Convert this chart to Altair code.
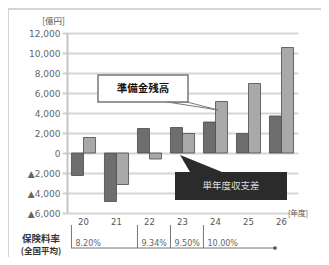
import altair as alt
import pandas as pd

# ---- data ----
years = ["20", "21", "22", "23", "24", "25", "26"]
balance = [-2250, -4850, 2450, 2550, 3100, 1950, 3700]      # 単年度収支差
reserve = [1550, -3150, -600, 1950, 5150, 6950, 10550]      # 準備金残高
series_names = ["単年度収支差", "準備金残高"]
y_ticks = [-6000, -4000, -2000, 0, 2000, 4000, 6000, 8000, 10000, 12000]
rate_years = ["20", "22", "23", "24"]
rates = ["8.20%", "9.34%", "9.50%", "10.00%"]

FONT = "Noto Sans CJK JP"
NUMFONT = "DejaVu Sans"
W, H = 231, 180

rows = []
for yr, b, r in zip(years, balance, reserve):
    rows.append({"year": yr, "series": series_names[0], "value": b})
    rows.append({"year": yr, "series": series_names[1], "value": r})
df = pd.DataFrame(rows)
rate_df = pd.DataFrame({"year": rate_years, "rate": rates})

xscale = alt.Scale(domain=years, paddingInner=0.27, paddingOuter=0.135)
x_axis = alt.Axis(title=None, domain=False, ticks=False, grid=False, labelAngle=0,
                  labelFont=NUMFONT, labelFontSize=8.5, labelColor="#555", labelPadding=4)

# outer frame (decoration)
frame = alt.Chart(pd.DataFrame({"a": [0]})).mark_rect(
    fillOpacity=0, stroke="#c8c8c8", strokeWidth=1.5
).encode(x=alt.value(-59), x2=alt.value(280), y=alt.value(-24), y2=alt.value(270))

bars = alt.Chart(df).mark_bar(stroke="#4a4a4a", strokeWidth=0.8).encode(
    x=alt.X("year:N", sort=years, scale=xscale, axis=x_axis),
    xOffset=alt.XOffset("series:N", sort=series_names,
                        scale=alt.Scale(domain=series_names, paddingInner=0, paddingOuter=0)),
    y=alt.Y("value:Q", scale=alt.Scale(domain=[-6000, 12000], nice=False, zero=False),
            axis=alt.Axis(values=y_ticks,
                          labelExpr="datum.value < 0 ? '▲' + format(-datum.value, ',') : format(datum.value, ',')",
                          grid=True, gridColor="#d6d6d6", gridWidth=2,
                          domainColor="#c4c4c4", domainWidth=2,
                          tickColor="#d0d0d0", tickWidth=2, tickSize=5,
                          labelPadding=2, labelFont=NUMFONT, labelFontSize=9, labelColor="#666",
                          title="[億円]", titleAngle=0, titleAlign="center", titleBaseline="middle",
                          titleX=-14, titleY=-13, titleFont=FONT, titleFontSize=8.5,
                          titleFontWeight="normal", titleColor="#555")),
    color=alt.Color("series:N", scale=alt.Scale(domain=series_names, range=["#6e6e6e", "#a9a9a9"]),
                    legend=None),
)

# callout: 準備金残高
box1 = alt.Chart(pd.DataFrame({"a": [0]})).mark_rect(
    fill="white", stroke="#777", strokeWidth=1.5
).encode(x=alt.value(31), x2=alt.value(121), y=alt.value(42), y2=alt.value(69))
wedge1 = alt.Chart(pd.DataFrame({"px": [100, 120, 151], "py": [69, 69, 77], "py2": [69, 72.1, 77]})).mark_area(
    fill="white", stroke="#777", strokeWidth=1
).encode(x=alt.X("px:Q", scale=None), y=alt.Y("py:Q", scale=None), y2="py2:Q")
text1 = alt.Chart(pd.DataFrame({"t": ["準備金残高"]})).mark_text(
    font=FONT, fontSize=10.5, fontWeight="bold", color="#111", align="center", baseline="middle"
).encode(x=alt.value(76), y=alt.value(55.5), text="t:N")

# callout: 単年度収支差
wedge2 = alt.Chart(pd.DataFrame({"px": [113, 123, 155], "py": [122, 126, 139], "py2": [122, 139, 139]})).mark_area(
    fill="#2b2b2b"
).encode(x=alt.X("px:Q", scale=None), y=alt.Y("py:Q", scale=None), y2="py2:Q")
box2 = alt.Chart(pd.DataFrame({"a": [0]})).mark_rect(fill="#2b2b2b").encode(
    x=alt.value(108), x2=alt.value(220), y=alt.value(139), y2=alt.value(167))
text2 = alt.Chart(pd.DataFrame({"t": ["単年度収支差"]})).mark_text(
    font=FONT, fontSize=9.5, color="#dcdcdc", align="center", baseline="middle"
).encode(x=alt.value(164), y=alt.value(153), text="t:N")

# x-axis unit
unit = alt.Chart(pd.DataFrame({"t": ["[年度]"]})).mark_text(
    font=FONT, fontSize=7.5, color="#555", align="left", baseline="middle"
).encode(x=alt.value(221), y=alt.value(181), text="t:N")

# insurance rate row
rate_ticks = alt.Chart(rate_df).mark_rule(color="#777", strokeWidth=1).encode(
    x=alt.X("year:N", sort=years, scale=xscale, bandPosition=0, axis=x_axis),
    y=alt.value(192), y2=alt.value(215))
rate_text = alt.Chart(rate_df).mark_text(
    font=NUMFONT, fontSize=8, color="#666", align="left", baseline="middle", dx=4
).encode(x=alt.X("year:N", sort=years, scale=xscale, bandPosition=0, axis=x_axis),
         y=alt.value(211), text="rate:N")
underline = alt.Chart(pd.DataFrame({"a": [0]})).mark_rule(color="#777", strokeWidth=1).encode(
    x=alt.value(4), x2=alt.value(208), y=alt.value(215))
dot = alt.Chart(pd.DataFrame({"a": [0]})).mark_point(filled=True, color="#555", size=14, opacity=1).encode(
    x=alt.value(208), y=alt.value(215))
rate_label = alt.Chart(pd.DataFrame({"t": ["保険料率"]})).mark_text(
    font=FONT, fontSize=9.5, fontWeight="bold", color="#333", align="center", baseline="middle"
).encode(x=alt.value(-26), y=alt.value(206), text="t:N")
rate_label2 = alt.Chart(pd.DataFrame({"t": ["(全国平均)"]})).mark_text(
    font=FONT, fontSize=8.5, fontWeight="bold", color="#333", align="center", baseline="middle"
).encode(x=alt.value(-26), y=alt.value(218), text="t:N")

chart = alt.layer(
    frame, bars, wedge1, box1, text1, wedge2, box2, text2, unit,
    rate_ticks, rate_text, underline, dot, rate_label, rate_label2
).resolve_scale(x="shared").properties(
    width=W, height=H,
    padding={"left": 59, "top": 25, "right": 23, "bottom": 44},
    autosize=alt.AutoSizeParams(type="none"),
    background="white",
).configure_view(stroke=None)

chart.save("out.html", embed_options={"renderer": "svg", "actions": False})
